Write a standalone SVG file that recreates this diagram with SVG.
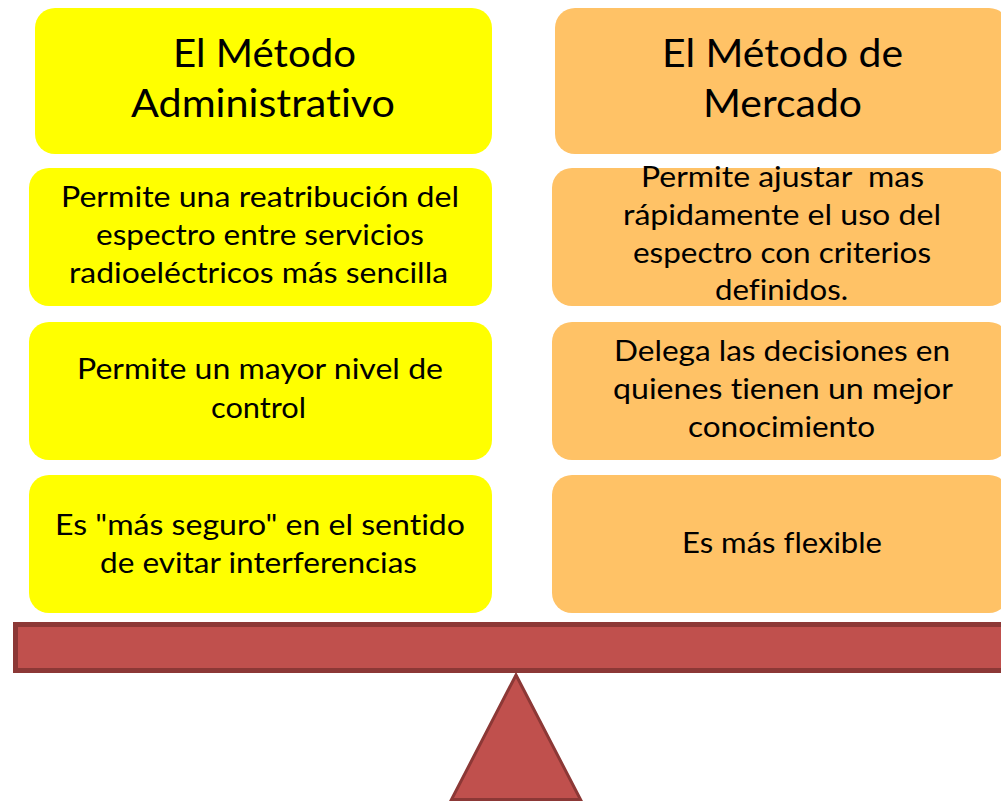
<svg xmlns="http://www.w3.org/2000/svg" width="1001" height="802" viewBox="0 0 1001 802">
  <style>
    .yl { fill: #FFFF00; }
    .or { fill: #FFC266; }
    .t { font-family: Lato, "Liberation Sans", sans-serif; fill: #000; text-anchor: middle; font-variant-ligatures: none; font-feature-settings: "liga" 0, "clig" 0; }
    .title { font-size: 39px; }
    .body { font-size: 28px; }
    .pre { white-space: pre; }
  </style>
  <rect width="1001" height="802" fill="#FFFFFF"/>

  <g id="left-title">
    <rect class="yl" x="35" y="8" width="457" height="146" rx="20"/>
    <text class="t title" x="264.5" y="67" textLength="183" lengthAdjust="spacingAndGlyphs">El Método</text>
    <text class="t title" x="263" y="117" textLength="264" lengthAdjust="spacingAndGlyphs">Administrativo</text>
  </g>
  <g id="right-title">
    <rect class="or" x="555" y="8" width="454" height="146" rx="20"/>
    <text class="t title" x="782.5" y="67" textLength="241" lengthAdjust="spacingAndGlyphs">El Método de</text>
    <text class="t title" x="782.5" y="117" textLength="159" lengthAdjust="spacingAndGlyphs">Mercado</text>
  </g>

  <g id="left-1">
    <rect class="yl" x="29" y="168" width="463" height="138" rx="20"/>
    <text class="t body" x="260" y="207" textLength="398" lengthAdjust="spacingAndGlyphs">Permite una reatribución del</text>
    <text class="t body" x="260" y="245" textLength="328" lengthAdjust="spacingAndGlyphs">espectro entre servicios</text>
    <text class="t body" x="258.5" y="283" textLength="379" lengthAdjust="spacingAndGlyphs">radioeléctricos más sencilla</text>
  </g>
  <g id="right-1">
    <rect class="or" x="552" y="168" width="457" height="138" rx="20"/>
    <text class="t body pre" x="782.5" y="187" textLength="283" lengthAdjust="spacingAndGlyphs">Permite ajustar  mas</text>
    <text class="t body" x="782" y="225" textLength="318" lengthAdjust="spacingAndGlyphs">rápidamente el uso del</text>
    <text class="t body" x="782" y="263" textLength="298" lengthAdjust="spacingAndGlyphs">espectro con criterios</text>
    <text class="t body" x="781.5" y="300" textLength="133" lengthAdjust="spacingAndGlyphs">definidos.</text>
  </g>

  <g id="left-2">
    <rect class="yl" x="29" y="322" width="463" height="138" rx="20"/>
    <text class="t body" x="260" y="379" textLength="366" lengthAdjust="spacingAndGlyphs">Permite un mayor nivel de</text>
    <text class="t body" x="258.5" y="418" textLength="95" lengthAdjust="spacingAndGlyphs">control</text>
  </g>
  <g id="right-2">
    <rect class="or" x="552" y="322" width="457" height="138" rx="20"/>
    <text class="t body" x="782" y="361" textLength="336" lengthAdjust="spacingAndGlyphs">Delega las decisiones en</text>
    <text class="t body" x="783" y="399" textLength="340" lengthAdjust="spacingAndGlyphs">quienes tienen un mejor</text>
    <text class="t body" x="781.5" y="437" textLength="187" lengthAdjust="spacingAndGlyphs">conocimiento</text>
  </g>

  <g id="left-3">
    <rect class="yl" x="29" y="475" width="463" height="138" rx="20"/>
    <text class="t body" x="260" y="535" textLength="410" lengthAdjust="spacingAndGlyphs">Es "más seguro" en el sentido</text>
    <text class="t body" x="258.5" y="573" textLength="317" lengthAdjust="spacingAndGlyphs">de evitar interferencias</text>
  </g>
  <g id="right-3">
    <rect class="or" x="552" y="475" width="457" height="138" rx="20"/>
    <text class="t body" x="782" y="553" textLength="200" lengthAdjust="spacingAndGlyphs">Es más flexible</text>
  </g>

  <g id="beam">
    <rect x="15.5" y="624.5" width="995" height="46" fill="#C0504D" stroke="#8C3836" stroke-width="5"/>
  </g>
  <g id="fulcrum">
    <polygon points="516,675 580.5,799.5 451.5,799.5" fill="#C0504D" stroke="#8C3836" stroke-width="3" stroke-linejoin="miter"/>
  </g>
</svg>
